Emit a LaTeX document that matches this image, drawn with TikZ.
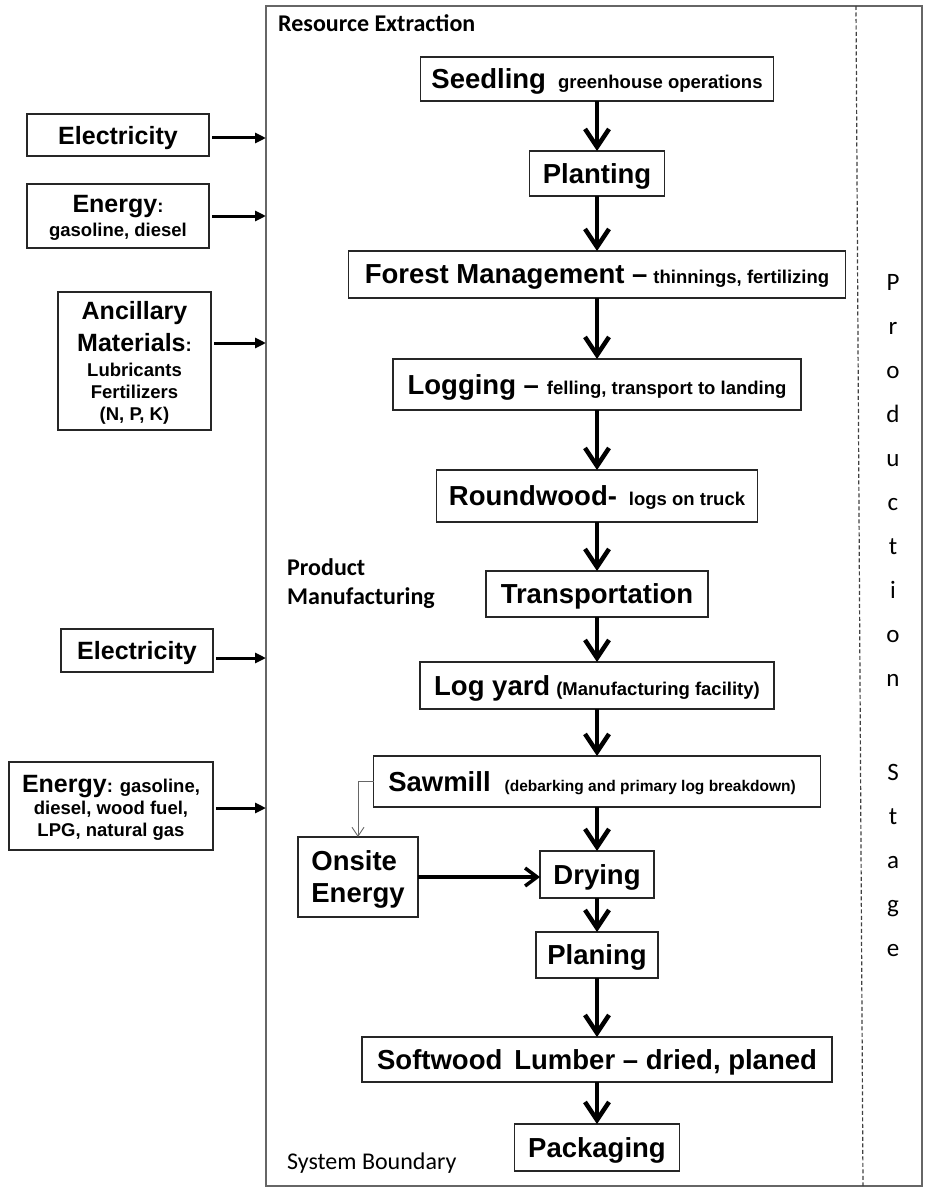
\documentclass[tikz,border=0pt]{standalone}
\usepackage{fontspec}
\setmainfont{Liberation Sans}
\newfontfamily\calfont{Carlito}
\usetikzlibrary{arrows.meta, positioning}

\newcommand\mainsz{\fontsize{27.5}{31}\selectfont}
\newcommand\subsz{\fontsize{18.5}{22}\selectfont}
\newcommand\insz{\fontsize{25}{28}\selectfont}
\newcommand\notesz{\fontsize{15.5}{20}\selectfont}

\begin{document}
\begin{tikzpicture}[
  x=1pt, y=-1pt,
  node distance=50pt,
  box/.style={rectangle, draw=black!85, line width=1.3pt, fill=white, text depth=0pt,
              inner sep=0pt, outer sep=0pt, align=center, font=\bfseries},
  bound/.style={rectangle, draw=black!60, line width=1.3pt, inner sep=0pt, outer sep=0pt},
  flow/.style={-{Straight Barb[length=18pt, width=24pt]}, line width=4.5pt},
  side/.style={-{Straight Barb[length=12pt, width=18pt]}, line width=3.5pt},
  feed/.style={-{Triangle[length=11pt, width=10pt]}, line width=3pt, shorten <=3pt},
  tap/.style={-{Straight Barb[length=9pt, width=12pt]}, line width=0.9pt, draw=black!60},
  lbl/.style={font=\calfont\fontsize{24}{29}\selectfont, inner sep=0pt},
  lblb/.style={font=\calfont\bfseries\fontsize{24}{29}\selectfont, inner sep=0pt}
]
\useasboundingbox (0,0) rectangle (924,1188);

% system boundary and stage column
\node[bound, minimum width=656pt, minimum height=1180pt] (sysb) at (594,596) {};
\draw[black!75, line width=1.2pt, dash pattern=on 4pt off 2.5pt] (856,6) -- (863,1186);
\node[font=\calfont\fontsize{25}{44}\selectfont, align=center, inner sep=0pt, anchor=north]
  (stage) at (893,274) {P\\r\\o\\d\\u\\c\\t\\i\\o\\n\\[50pt]S\\t\\a\\g\\e};

\node[lblb, anchor=base west] (resx) at (278,32) {Resource Extraction};
\node[lblb, anchor=north west, align=left] (prodm) at (287,558) {Product\\Manufacturing};
\node[lbl, anchor=base west] (sysbl) at (287,1169) {System Boundary};

% main chain
\node[box, minimum width=353pt, minimum height=44pt] (seed) at (597,79)
  {{\mainsz Seedling}\hspace{12pt}{\subsz greenhouse operations}};
\node[box, below=50pt of seed, minimum width=135pt, minimum height=45pt] (plant) {\mainsz Planting};
\node[box, below=55pt of plant, minimum width=497pt, minimum height=47pt] (forest)
  {{\mainsz Forest Management --}\hspace{6pt}{\subsz thinnings, fertilizing}};
\node[box, below=61pt of forest, minimum width=408pt, minimum height=51pt] (logging)
  {{\mainsz Logging --}\hspace{8pt}{\subsz felling, transport to landing}};
\node[box, below=60pt of logging, minimum width=321pt, minimum height=52pt] (round)
  {{\mainsz Roundwood-}\hspace{12pt}{\subsz logs on truck}};
\node[box, below=49pt of round, minimum width=222pt, minimum height=46pt] (trans) {\mainsz Transportation};
\node[box, below=45pt of trans, minimum width=354pt, minimum height=47pt] (yard)
  {{\mainsz Log yard}\hspace{6pt}{\subsz (Manufacturing facility)}};
\node[box, below=47pt of yard, minimum width=447pt, minimum height=51pt] (saw)
  {{\mainsz Sawmill}\hspace{14pt}{\notesz (debarking and primary log breakdown)}\hspace*{10pt}};
\node[box, below=44pt of saw, minimum width=114pt, minimum height=47pt] (dry) {\mainsz Drying};
\node[box, below=34pt of dry, minimum width=122pt, minimum height=46pt] (plan) {\mainsz Planing};
\node[box, below=59pt of plan, minimum width=470pt, minimum height=45pt] (soft)
  {\mainsz Softwood\hspace{12pt}Lumber -- dried, planed};
\node[box, below=42pt of soft, minimum width=165pt, minimum height=47pt] (pack) {\mainsz Packaging};
\node[box, font=\mainsz\bfseries, align=left, minimum width=120pt, minimum height=80pt] (onsite)
  at (358,877) {Onsite\\[1pt]Energy};

% inputs
\node[box, font=\insz\bfseries, minimum width=182pt, minimum height=42pt] (elec1) at (118,135) {Electricity};
\node[box, font=\subsz\bfseries, minimum width=182pt, minimum height=64pt] (fuel1) at (118,216)
  {{\insz Energy}:\\[2pt]gasoline, diesel};
\node[box, font=\subsz\bfseries, minimum width=153pt, minimum height=138pt] (anc) at (134.5,361)
  {{\insz Ancillary}\\[7pt]{\insz Materials}:\\[3pt]Lubricants\\Fertilizers\\(N, P, K)};
\node[box, font=\insz\bfseries, minimum width=152pt, minimum height=43pt] (elec2) at (137,650.5) {Electricity};
\node[box, font=\subsz\bfseries, minimum width=204pt, minimum height=88pt] (fuel2) at (111,806)
  {{\insz Energy}: gasoline,\\diesel, wood fuel,\\LPG, natural gas};

\draw[feed] ([yshift=-3pt]elec1.east) -- ([yshift=-3pt]elec1.east -| sysb.west);
\draw[feed] (fuel1.east) -- (fuel1.east -| sysb.west);
\draw[feed] ([yshift=18pt]anc.east) -- ([yshift=18pt]anc.east -| sysb.west);
\draw[feed] ([yshift=-7.5pt]elec2.east) -- ([yshift=-7.5pt]elec2.east -| sysb.west);
\draw[feed] ([yshift=-2pt]fuel2.east) -- ([yshift=-2pt]fuel2.east -| sysb.west);

\foreach \a/\b in {seed/plant, plant/forest, forest/logging, logging/round, round/trans,
                   trans/yard, yard/saw, saw/dry, dry/plan, plan/soft, soft/pack}
  \draw[flow] (\a) -- (\b);

\draw[tap] (saw.west) -| (onsite.north);
\draw[side] (onsite.east) -- (onsite.east -| dry.west);

\end{tikzpicture}
\end{document}
